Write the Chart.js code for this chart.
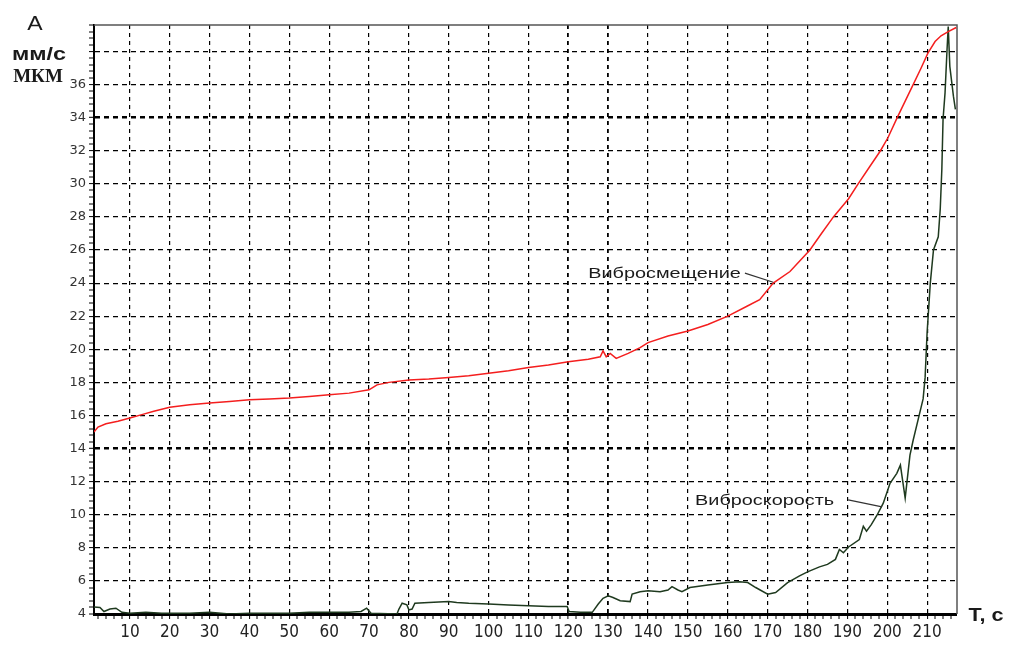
<!DOCTYPE html>
<html>
<head>
<meta charset="utf-8">
<script src="https://cdn.jsdelivr.net/npm/chart.js@4.4.1/dist/chart.umd.min.js"></script>
<style>
  html, body { margin: 0; padding: 0; background: #fff; }
</style>
</head>
<body>
<canvas id="chart" width="1009" height="645"></canvas>
<script>
// ---- values ----
// Вибросмещение (red)
const timeDisp = [1, 2, 4, 7, 10, 13, 16, 20, 25, 30, 35, 40, 45, 50, 55, 60, 65, 70, 71, 72,
  75, 80, 85, 90, 95, 100, 105, 110, 115, 120, 125, 128, 128.7, 129.5, 130.5, 132, 135, 138, 140, 145,
  150, 155, 160, 164.8, 168, 171.4, 175.6, 180.6, 183.5, 186.5, 190.3, 192.7, 195.5, 198.3, 200.2, 202.5,
  204.5, 206.5, 208.5, 210.2, 212, 213.5, 215.3, 217.3];
const dispValues = [15.0, 15.3, 15.5, 15.65, 15.85, 16.05, 16.25, 16.5, 16.65, 16.75, 16.85, 16.95, 17.0, 17.05, 17.15, 17.25, 17.35, 17.55, 17.7, 17.85,
  18.0, 18.15, 18.2, 18.3, 18.4, 18.55, 18.7, 18.9, 19.05, 19.25, 19.4, 19.55, 19.9, 19.55, 19.75, 19.45, 19.75, 20.1, 20.4, 20.8,
  21.1, 21.5, 22.0, 22.6, 23.0, 24.0, 24.7, 26.0, 27.0, 28.0, 29.1, 30.0, 31.0, 32.0, 32.8, 34.0,
  35.0, 36.0, 37.0, 37.9, 38.6, 38.95, 39.2, 39.45];

// Виброскорость (dark green)
const timeVel = [1, 2.5, 3.5, 5, 6.5, 8, 10, 14, 18, 25, 30, 35, 40, 50, 55, 60, 65, 68, 69.4, 70.5,
  77, 77.5, 78.3, 79.5, 80, 80.8, 81.5, 85, 90, 92, 95, 100, 105, 110, 115, 119.7, 120.2, 123, 126, 127.5,
  128.7, 130, 131.2, 133, 135.5, 136, 138, 140, 143, 145, 146, 147.5, 148.5, 150.5, 155, 160, 163, 165, 167, 170,
  172, 175, 178, 180, 183, 185, 187, 188, 189, 190.3, 193, 194, 194.8, 196, 197.5, 199, 200.7, 202.4, 203.3, 204.5,
  205.7, 206.5, 208.2, 209, 209.5, 210, 210.8, 211.6, 212.8, 213.3, 213.7, 214, 214.5, 215, 215.3, 215.7, 216.2, 216.6, 217.1];
const velValues = [4.42, 4.4, 4.15, 4.3, 4.35, 4.1, 4.05, 4.1, 4.05, 4.05, 4.1, 4.0, 4.05, 4.05, 4.1, 4.1, 4.1, 4.15, 4.35, 4.05,
  4.0, 4.3, 4.65, 4.55, 4.25, 4.3, 4.65, 4.7, 4.75, 4.7, 4.65, 4.6, 4.55, 4.5, 4.45, 4.45, 4.15, 4.1, 4.1, 4.6,
  4.95, 5.1, 5.0, 4.8, 4.75, 5.2, 5.35, 5.4, 5.35, 5.45, 5.65, 5.45, 5.35, 5.6, 5.75, 5.9, 5.95, 5.9, 5.6, 5.2,
  5.3, 5.9, 6.3, 6.55, 6.85, 7.0, 7.3, 7.9, 7.7, 8.05, 8.5, 9.3, 9.0, 9.4, 10.0, 10.7, 11.9, 12.5, 13.0, 11.0,
  13.6, 14.5, 16.2, 17.0, 18.3, 21.0, 24.0, 26.0, 26.8, 28.5, 30.9, 33.9, 35.5, 38.1, 39.5, 37.1, 36.1, 35.3, 34.5];

const xTickLabels = [10, 20, 30, 40, 50, 60, 70, 80, 90, 100, 110, 120, 130, 140, 150, 160, 170, 180, 190, 200, 210];
const yTickLabels = [4, 6, 8, 10, 12, 14, 16, 18, 20, 22, 24, 26, 28, 30, 32, 34, 36];
const yGridValues = [6, 8, 10, 12, 14, 16, 18, 20, 22, 24, 26, 28, 30, 32, 34, 36, 38];
const boldY = [14, 34];
const boldX = [120, 130];

const X_MIN = 1, X_MAX = 217.5, Y_MIN = 4, Y_MAX = 39.6;

// minor tick positions (every 2 s on x, every 0.4 on y)
const xTicks = [];
for (let v = 2; v <= 216; v += 2) xTicks.push(v);
const yTicks = [];
for (let i = 0; Y_MIN + i * 0.4 <= Y_MAX + 1e-9; i++) yTicks.push(Math.round((Y_MIN + i * 0.4) * 10) / 10);

function toPoints(xs, ys) {
  return xs.map((x, i) => ({ x: x, y: ys[i] }));
}

function drawText(ctx, str, x, y, font, sx, align) {
  ctx.save();
  ctx.translate(x, y);
  ctx.scale(sx, 1);
  ctx.font = font;
  ctx.textAlign = align;
  ctx.textBaseline = 'alphabetic';
  ctx.fillStyle = '#1a1a1a';
  ctx.fillText(str, 0, 0);
  ctx.restore();
}

// frame, axis titles and curve labels
const decorPlugin = {
  id: 'decor',
  beforeDatasetsDraw(chart) {
    const { ctx, chartArea: a } = chart;
    ctx.save();
    ctx.strokeStyle = '#555';
    ctx.lineWidth = 1.5;
    ctx.beginPath();
    ctx.moveTo(a.left, a.top);
    ctx.lineTo(a.right, a.top);
    ctx.lineTo(a.right, a.bottom);
    ctx.stroke();
    ctx.restore();
  },
  afterDraw(chart) {
    const { ctx, scales: { x, y } } = chart;
    drawText(ctx, 'А', 35, 30, '20px Arial', 1.15, 'center');
    drawText(ctx, 'мм/с', 39, 60, 'bold 18px Arial', 1.3, 'center');
    drawText(ctx, 'МКМ', 38, 82, 'bold 19px "Liberation Serif"', 1, 'center');
    drawText(ctx, 'Т, с', 986, 621, 'bold 18px Arial', 1.2, 'center');

    const notes = [
      { text: 'Вибросмещение', tx: 125, ty: 24.65, from: [164.3, 24.6], to: [171.4, 24.05] },
      { text: 'Виброскорость', tx: 151.8, ty: 10.9, from: [190.2, 10.9], to: [198.7, 10.47] }
    ];
    notes.forEach(n => {
      drawText(ctx, n.text, x.getPixelForValue(n.tx), y.getPixelForValue(n.ty) + 5.5, '15.5px Arial', 1.28, 'left');
      ctx.save();
      ctx.strokeStyle = '#333';
      ctx.lineWidth = 1.2;
      ctx.beginPath();
      ctx.moveTo(x.getPixelForValue(n.from[0]), y.getPixelForValue(n.from[1]));
      ctx.lineTo(x.getPixelForValue(n.to[0]), y.getPixelForValue(n.to[1]));
      ctx.stroke();
      ctx.restore();
    });
  }
};

new Chart(document.getElementById('chart'), {
  type: 'line',
  data: {
    datasets: [
      {
        label: 'Вибросмещение',
        data: toPoints(timeDisp, dispValues),
        borderColor: '#f41e1e',
        borderWidth: 1.5,
        pointRadius: 0,
        tension: 0
      },
      {
        label: 'Виброскорость',
        data: toPoints(timeVel, velValues),
        borderColor: '#1f3a1f',
        borderWidth: 1.5,
        pointRadius: 0,
        tension: 0
      }
    ]
  },
  options: {
    responsive: false,
    animation: false,
    devicePixelRatio: 1,
    layout: { padding: { top: 25, right: 52, left: 0, bottom: 0 } },
    plugins: { legend: { display: false }, tooltip: { enabled: false } },
    scales: {
      x: {
        type: 'linear',
        min: X_MIN,
        max: X_MAX,
        afterBuildTicks: s => { s.ticks = xTicks.map(v => ({ value: v })); },
        afterFit: s => { s.height = 31; },
        ticks: {
          autoSkip: false,
          maxRotation: 0,
          padding: 3,
          color: '#222',
          font: { family: "'Liberation Sans Narrow', 'DejaVu Sans Condensed', Arial", size: 17 },
          callback: v => xTickLabels.includes(v) ? String(v) : ''
        },
        grid: {
          color: '#000',
          lineWidth: c => boldX.includes(c.tick.value) ? 1.8 : (xTickLabels.includes(c.tick.value) ? 1.2 : 0),
          tickLength: 5,
          tickColor: '#000',
          tickWidth: 1
        },
        border: { color: '#000', width: 3, dash: [4, 4] }
      },
      y: {
        type: 'linear',
        min: Y_MIN,
        max: Y_MAX,
        afterBuildTicks: s => { s.ticks = yTicks.map(v => ({ value: v })); },
        afterFit: s => { s.width = 94; },
        ticks: {
          autoSkip: false,
          padding: 3,
          color: '#333',
          font: { family: "'DejaVu Sans'", size: 13 },
          callback: v => yTickLabels.includes(v) ? String(v) : ''
        },
        grid: {
          color: '#000',
          lineWidth: c => boldY.includes(c.tick.value) ? 2.6 : (yGridValues.includes(c.tick.value) ? 1.2 : 0),
          tickLength: 5,
          tickColor: '#000',
          tickWidth: 1
        },
        border: { color: '#000', width: 2, dash: [5, 4] }
      }
    }
  },
  plugins: [decorPlugin]
});
</script>
</body>
</html>
